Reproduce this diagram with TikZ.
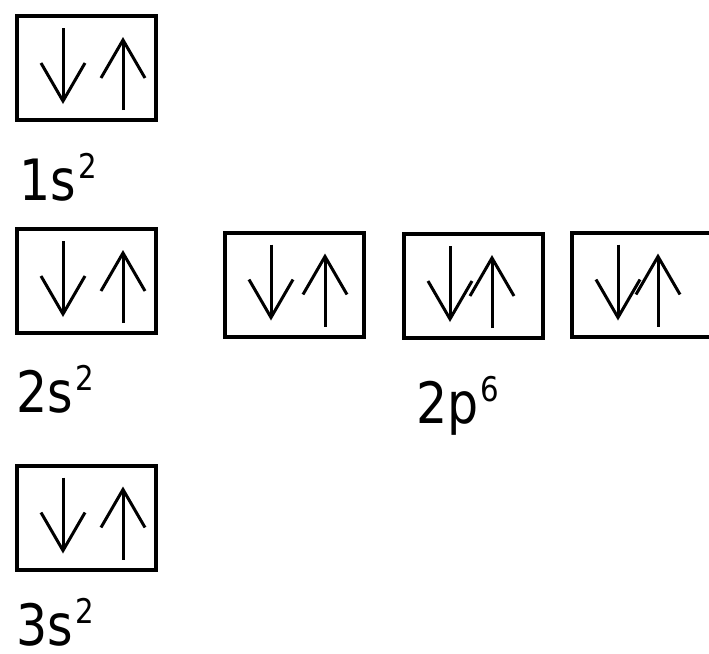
\documentclass[tikz,border=0pt]{standalone}
\usepackage{fontspec}
\setmainfont{DejaVu Sans}[FakeStretch=0.86]
\usetikzlibrary{arrows.meta, calc, positioning}
\newcommand{\sps}[1]{\hspace{1pt}\raisebox{11pt}{\fontsize{17}{17}\selectfont #1}}

\tikzset{
	orbbox/.style={draw, line width=2pt, minimum width=69.5pt, minimum height=52pt, inner sep=0pt},
	spin/.style={line width=1.5pt, -{Straight Barb[length=19pt, width=22pt]}},
	orblabel/.style={anchor=base west, inner sep=0pt, text depth=0pt, font=\fontsize{28.5}{34}\selectfont}
}

\begin{document}
\begin{tikzpicture}[x=0.5pt, y=-0.5pt]
	\fill[white] (0,0) rectangle (709,654);
	\useasboundingbox (0,0) rectangle (709,654);
	% s orbitals
	\node[orbbox] (s1) at (86.5,68) {};
	\node[orbbox] (s2) at (86.5,281) {};
	\node[orbbox] (s3) at (86.5,517.5) {};
	% 2p orbitals
	\node[orbbox] (pa) at (294.5,284.5) {};
	\node[orbbox] (pb) at (473.5,286) {};
	\node[orbbox] (pc) at (641.5,284.5) {};
	% spin pairs
	\foreach \b/\u in {s1/36.5, s2/36.5, s3/36.5, pa/30.5, pb/18.5, pc/16.5}{
		\draw[spin] ($(\b)+(-23.5,-40)$) -- ($(\b)+(-23.5,36)$);
		\draw[spin] ($(\b)+(\u,42)$) -- ($(\b)+(\u,-31)$);
	}
	% labels
	\node[orblabel] (l1s) at (19,200) {1s\sps{2}};
	\node[orblabel] (l2s) at (16,412) {2s\sps{2}};
	\node[orblabel] (l3s) at (16,645) {3s\sps{2}};
	\node[orblabel] (l2p) at (416,423) {2p\sps{6}};
\end{tikzpicture}
\end{document}
